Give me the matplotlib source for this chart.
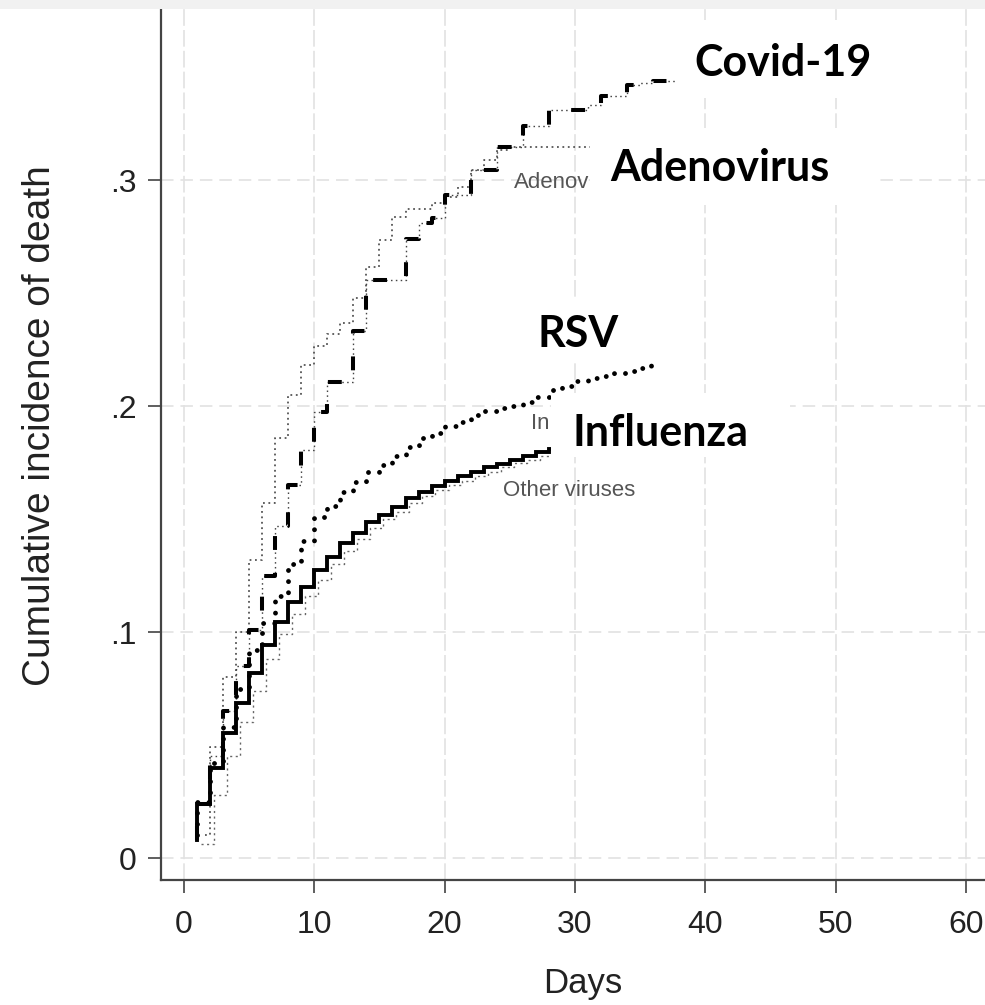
import matplotlib
matplotlib.use("Agg")
import matplotlib.pyplot as plt
from matplotlib.patches import Rectangle

plt.rcParams['lines.scale_dashes'] = False

# ---------------- data (cumulative incidence of death, step functions) ----------------
covid_days = [1, 1, 2, 3, 4, 5, 6, 7, 8, 9, 10, 11, 12, 13, 14, 15, 16, 17, 18, 19, 20,
              21, 22, 23, 24, 25, 26, 27, 28, 29, 30, 31, 32, 33, 34, 35, 36, 37, 37.8]
covid_vals = [0.008, 0.024, 0.045, 0.065, 0.085, 0.101, 0.125, 0.147, 0.165, 0.1805, 0.1975,
              0.2107, 0.2107, 0.233, 0.2557, 0.2557, 0.2557, 0.274, 0.281, 0.283, 0.2934,
              0.2934, 0.3044, 0.3044, 0.3147, 0.3147, 0.324, 0.324, 0.331, 0.331, 0.331,
              0.333, 0.337, 0.337, 0.342, 0.343, 0.344, 0.344, 0.344]

adeno_days = [1.6, 2, 3, 4, 5, 6, 7, 8, 9, 10, 11, 12, 13, 14, 15, 16, 17, 18, 19, 20,
              21, 22, 23, 24, 25, 31.5]
adeno_vals = [0.010, 0.049, 0.080, 0.100, 0.132, 0.157, 0.186, 0.205, 0.218, 0.2265, 0.232,
              0.2367, 0.248, 0.2616, 0.2735, 0.2838, 0.287, 0.287, 0.2898, 0.2926, 0.297,
              0.3044, 0.309, 0.3133, 0.3146, 0.3146]

rsv_days = [1, 1, 2, 3, 4, 5, 6, 7, 8, 9, 10, 11, 12, 13, 14, 15, 16, 17, 18, 19, 20,
            21, 22, 23, 24, 25, 26, 27, 28, 29, 30, 31, 32, 33, 34, 35, 35.8]
rsv_vals = [0.010, 0.025, 0.042, 0.058, 0.075, 0.092, 0.104, 0.116, 0.130, 0.1404, 0.151,
            0.1557, 0.162, 0.1665, 0.171, 0.174, 0.178, 0.182, 0.186, 0.188, 0.191, 0.193,
            0.196, 0.198, 0.199, 0.200, 0.202, 0.204, 0.207, 0.209, 0.211, 0.2125, 0.2135,
            0.2145, 0.2155, 0.217, 0.2195]

flu_days = [1, 1, 2, 3, 4, 5, 6, 7, 8, 9, 10, 11, 12, 13, 14, 15, 16, 17, 18, 19, 20,
            21, 22, 23, 24, 25, 26, 27, 28, 30]
flu_vals = [0.008, 0.024, 0.0398, 0.0553, 0.0686, 0.0819, 0.0942, 0.1044, 0.1134, 0.120,
            0.1274, 0.1333, 0.1394, 0.1438, 0.1488, 0.1518, 0.1555, 0.1593, 0.1621, 0.1645,
            0.1668, 0.169, 0.171, 0.173, 0.1745, 0.176, 0.1778, 0.1795, 0.181, 0.181]

other_days = [1.3, 2.3, 3.3, 4.3, 5.3, 6.3, 7.3, 8.3, 9.3, 10.3, 11.3, 12.3, 13.3, 14.3,
              15.3, 16.3, 17.3, 18.3, 19.3, 20.3, 21.3, 22.3, 23.3, 24.3, 25.3, 26.3, 27.3, 28]
other_vals = [0.006, 0.028, 0.045, 0.060, 0.074, 0.088, 0.099, 0.108, 0.116, 0.123, 0.130,
              0.136, 0.141, 0.146, 0.150, 0.153, 0.157, 0.160, 0.163, 0.165, 0.167, 0.169,
              0.171, 0.173, 0.175, 0.176, 0.178, 0.179]

x_ticks = [0, 10, 20, 30, 40, 50, 60]
y_ticks = [0, 0.1, 0.2, 0.3]
y_ticklabels = ['0', '.1', '.2', '.3']

# ---------------- figure ----------------
W, H = 985, 1005
fig = plt.figure(figsize=(W / 100, H / 100), dpi=100, facecolor='white')

def fx(px):
    return px / W

def fy(py):
    return 1 - py / H

ax = fig.add_axes([fx(161), fy(880), fx(985) - fx(161), fy(9) - fy(880)])
ax.set_xlim(-1.765, 61.47)
ax.set_ylim(-0.00973, 0.3757)

REG = ['Liberation Sans', 'DejaVu Sans']
BOLD = ['Lato', 'Liberation Sans', 'DejaVu Sans']

# grid
ax.set_axisbelow(True)
ax.xaxis.grid(True, color='#e2e2e2', lw=1.2, dashes=(12, 3))
ax.yaxis.grid(True, color='#e2e2e2', lw=1.2, dashes=(9, 5))

for s in ['top', 'right']:
    ax.spines[s].set_visible(False)
for s in ['left', 'bottom']:
    ax.spines[s].set_color('#444444')
    ax.spines[s].set_linewidth(1.6)

ax.set_xticks(x_ticks)
ax.set_yticks(y_ticks)
ax.set_yticklabels(y_ticklabels)
ax.tick_params(axis='both', direction='out', length=9.4, width=1.1, color='#333333',
               labelsize=23, labelcolor='#222222')
ax.tick_params(axis='x', pad=12)
ax.tick_params(axis='y', pad=8)
for lab in ax.get_xticklabels() + ax.get_yticklabels():
    lab.set_family(REG)

# curves
ax.plot(other_days, other_vals, drawstyle='steps-post', color='#666666', lw=1.0,
        dashes=(1.5, 2.5), zorder=3)
ax.plot(flu_days, flu_vals, drawstyle='steps-post', color='black', lw=2.8, zorder=4,
        solid_joinstyle='miter')
ax.plot(rsv_days, rsv_vals, drawstyle='steps-post', color='black', lw=3.5,
        dashes=(0.01, 8), dash_capstyle='round', zorder=4)
ax.plot(adeno_days, adeno_vals, drawstyle='steps-post', color='#555555', lw=1.3,
        dashes=(1.3, 2.6), zorder=3)
ax.plot(covid_days, covid_vals, drawstyle='steps-post', color='#444444', lw=1.0,
        dashes=(1.1, 2.4), zorder=3)
ax.plot(covid_days, covid_vals, drawstyle='steps-post', color='black', lw=2.9,
        dashes=(10, 16.5), dash_capstyle='butt', zorder=4)

# original small grey curve labels (partly hidden by the overlaid big labels)
ax.text(25.3, 0.2965, 'Adenov', family=REG, fontsize=16, color='#555555',
        ha='left', va='baseline', zorder=5)
ax.text(26.63, 0.1900, 'In', family=REG, fontsize=16, color='#555555',
        ha='left', va='baseline', zorder=5)
ax.text(24.5, 0.1600, 'Other viruses', family=REG, fontsize=16, color='#555555',
        ha='left', va='baseline', zorder=5)

# white masks behind the big labels
for (x0, y0, x1, y1) in [(690, 20, 880, 98), (590, 128, 875, 205),
                         (530, 298, 652, 362), (551, 393, 790, 457)]:
    fig.add_artist(Rectangle((fx(x0), fy(y1)), fx(x1) - fx(x0), fy(y0) - fy(y1),
                             transform=fig.transFigure, facecolor='white',
                             edgecolor='none', zorder=6))

# big bold labels
big = dict(family=BOLD, fontweight='bold', fontsize=31, color='black',
           ha='center', va='baseline', zorder=7)
fig.text(fx(783), fy(76), 'Covid-19', **big)
fig.text(fx(720), fy(181), 'Adenovirus', **big)
fig.text(fx(578), fy(347), 'RSV', **big)
fig.text(fx(660), fy(446), 'Influenza', **big)

# axis titles
fig.text(fx(583), fy(993), 'Days', family=REG, fontsize=25, color='#222222',
         ha='center', va='baseline')
fig.text(fx(50), fy(426), 'Cumulative incidence of death', family=REG, fontsize=28,
         color='#222222', rotation=90, rotation_mode='anchor', ha='center', va='baseline')

# light grey strip along the top edge
fig.add_artist(Rectangle((0, fy(9)), 1, 1 - fy(9), transform=fig.transFigure,
                         facecolor='#f1f1f1', edgecolor='none', zorder=10))

fig.savefig('out.png', dpi=100, facecolor='white')
